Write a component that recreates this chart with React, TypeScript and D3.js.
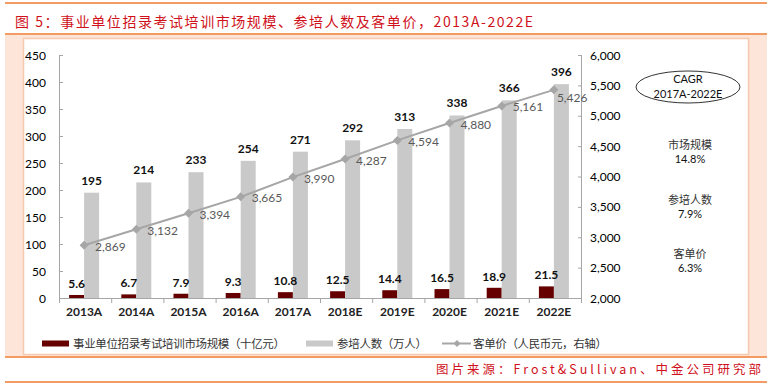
import React from "react";
import * as d3 from "d3";

const categories = ["2013A","2014A","2015A","2016A","2017A","2018E","2019E","2020E","2021E","2022E"];
const marketSize = [5.6, 6.7, 7.9, 9.3, 10.8, 12.5, 14.4, 16.5, 18.9, 21.5];
const participants = [195, 214, 233, 254, 271, 292, 313, 338, 366, 396];
const unitPrice = [2869, 3132, 3394, 3665, 3990, 4287, 4594, 4880, 5161, 5426];
const leftTicks = [0, 50, 100, 150, 200, 250, 300, 350, 400, 450];
const rightTicks = [2000, 2500, 3000, 3500, 4000, 4500, 5000, 5500, 6000];
const cagrItems = [
  { name: "市场规模", value: "14.8%" },
  { name: "参培人数", value: "7.9%" },
  { name: "客单价", value: "6.3%" },
];
const legendItems = ["事业单位招录考试培训市场规模（十亿元）", "参培人数（万人）", "客单价（人民币元，右轴）"];
const title = "图 5：事业单位招录考试培训市场规模、参培人数及客单价，2013A-2022E";
const source = "图片来源：Frost&Sullivan、中金公司研究部";

const W = 772, H = 386;
const ORANGE = "#ee7b30";
const PEACH = "#fde5d9";
const RED = "#d0111b";
const DARK = "#660000";
const GRAY = "#c9c9c9";
const LINE = "#a6a6a6";
const NUM = "Lato, 'Noto Sans', sans-serif";
const CJK = "'Noto Sans CJK SC', sans-serif";

export default function App() {
  const x = d3.scaleBand<string>().domain(categories).range([59, 581]).paddingInner(0).paddingOuter(0);
  const yL = d3.scaleLinear().domain([0, 450]).range([298, 55]);
  const yR = d3.scaleLinear().domain([2000, 6000]).range([298, 55]);
  const bw = 15;
  const cx = (c: string) => (x(c) as number) + x.bandwidth() / 2 - 1;
  const lineGen = d3.line<number>().x((_, i) => cx(categories[i])).y((v) => yR(v));
  const fmt = d3.format(",");
  const last = unitPrice.length - 1;

  return (
    <svg width={W} height={H} style={{ position: "absolute", left: 0, top: 0, background: "#fff" }}>
      <rect x={0} y={0} width={W} height={H} fill="#fff" />
      {/* header */}
      <line x1={5} x2={767} y1={3} y2={3} stroke={ORANGE} strokeWidth={1.5} />
      <text x={15} y={27} fill={RED} fontFamily={CJK} fontSize={14} textLength={518} lengthAdjust="spacing">{title}</text>
      <line x1={5} x2={767} y1={34} y2={34} stroke={ORANGE} strokeWidth={1.5} />
      {/* peach frame */}
      <rect x={5} y={35} width={762} height={321} fill={PEACH} />
      <rect x={23.5} y={38.5} width={725} height={316} fill="#fff" stroke="#f6c9b0" strokeWidth={1.5} />
      <line x1={5} x2={767} y1={357} y2={357} stroke={ORANGE} strokeWidth={1.5} />
      <text x={436} y={374} fill={RED} fontFamily={CJK} fontSize={12.5} textLength={325} lengthAdjust="spacing">{source}</text>
      <line x1={5} x2={767} y1={382} y2={382} stroke={ORANGE} strokeWidth={1.5} />

      {/* left axis */}
      <line x1={59.5} x2={59.5} y1={yL(450)} y2={yL(0)} stroke={LINE} />
      {leftTicks.map((t) => (
        <g key={"l" + t}>
          <line x1={59.5} x2={63} y1={yL(t) + 0.5} y2={yL(t) + 0.5} stroke={LINE} />
          <text x={46} y={yL(t) + 4.5} textAnchor="end" fontFamily={NUM} fontSize={12} fill="#000">{t}</text>
        </g>
      ))}
      {/* right axis */}
      <line x1={581.5} x2={581.5} y1={yR(6000)} y2={yR(2000)} stroke={LINE} />
      {rightTicks.map((t) => (
        <g key={"r" + t}>
          <line x1={578} x2={581.5} y1={yR(t) + 0.5} y2={yR(t) + 0.5} stroke={LINE} />
          <text x={590} y={yR(t) + 4.5} textAnchor="start" fontFamily={NUM} fontSize={12} fill="#000">{fmt(t)}</text>
        </g>
      ))}
      {/* bars */}
      {categories.map((c, i) => (
        <g key={c}>
          <rect x={cx(c) - bw} y={yL(marketSize[i])} width={bw} height={yL(0) - yL(marketSize[i])} fill={DARK} />
          <rect x={cx(c)} y={yL(participants[i])} width={bw} height={yL(0) - yL(participants[i])} fill={GRAY} />
          <text x={cx(c) - bw / 2} y={yL(marketSize[i]) - 7} textAnchor="middle" fontFamily={NUM} fontWeight={700} fontSize={12} fill="#111">{marketSize[i].toFixed(1)}</text>
          <text x={cx(c) + bw / 2} y={yL(participants[i]) - 8} textAnchor="middle" fontFamily={NUM} fontWeight={700} fontSize={12} fill="#111">{participants[i]}</text>
          <text x={cx(c)} y={316} textAnchor="middle" fontFamily={NUM} fontWeight={700} fontSize={12} fill="#222">{c}</text>
        </g>
      ))}
      {/* x axis */}
      <line x1={59} x2={582} y1={298.5} y2={298.5} stroke={LINE} />
      {categories.concat(["end"]).map((c, i) => {
        const xx = i < categories.length ? (x(c) as number) : 581;
        return <line key={"xt" + i} x1={xx + 0.5} x2={xx + 0.5} y1={298.5} y2={303} stroke={LINE} />;
      })}
      {/* line */}
      <path d={lineGen(unitPrice) || ""} fill="none" stroke={LINE} strokeWidth={2} />
      {unitPrice.map((v, i) => {
        const px = cx(categories[i]);
        const py = yR(v);
        const lx = i === last ? px + 3 : px + 11;
        const ly = i === last ? py + 12 : py + 5.5;
        return (
          <g key={"p" + i}>
            <path d={`M${px},${py - 4.5}L${px + 4.5},${py}L${px},${py + 4.5}L${px - 4.5},${py}Z`} fill={LINE} />
            <text x={lx} y={ly} fontFamily={NUM} fontSize={12} fill="#595959">{fmt(v)}</text>
          </g>
        );
      })}
      {/* CAGR */}
      <ellipse cx={688} cy={87} rx={52} ry={16} fill="none" stroke="#333" strokeWidth={1} />
      <text x={688} y={83} textAnchor="middle" fontFamily={NUM} fontSize={11} fill="#111">CAGR</text>
      <text x={688} y={98} textAnchor="middle" fontFamily={NUM} fontSize={11} fill="#111">2017A-2022E</text>
      {cagrItems.map((it, i) => (
        <g key={it.name}>
          <text x={690} y={149 + i * 54.5} textAnchor="middle" fontFamily={CJK} fontSize={11} fill="#333">{it.name}</text>
          <text x={690} y={163 + i * 54.5} textAnchor="middle" fontFamily={NUM} fontSize={11} fill="#111">{it.value}</text>
        </g>
      ))}
      {/* legend */}
      <rect x={42} y={340.5} width={27} height={6} fill={DARK} />
      <text x={73} y={347.5} fontFamily={CJK} fontSize={11.5} fill="#333" textLength={212} lengthAdjust="spacing">{legendItems[0]}</text>
      <rect x={306} y={340.5} width={27} height={6} fill={GRAY} />
      <text x={337} y={347.5} fontFamily={CJK} fontSize={11.5} fill="#333" textLength={90} lengthAdjust="spacing">{legendItems[1]}</text>
      <line x1={442} x2={471} y1={343.5} y2={343.5} stroke={LINE} strokeWidth={2} />
      <path d="M457,340L460.5,343.5L457,347L453.5,343.5Z" fill={LINE} />
      <text x={473} y={347.5} fontFamily={CJK} fontSize={11.5} fill="#333" textLength={134} lengthAdjust="spacing">{legendItems[2]}</text>
    </svg>
  );
}
